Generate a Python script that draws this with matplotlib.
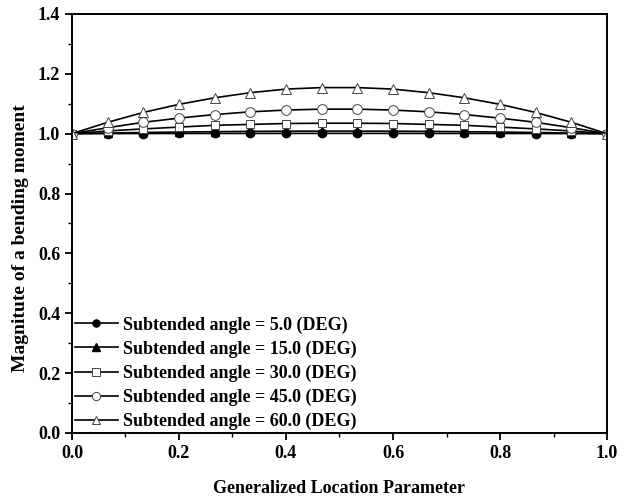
import matplotlib
matplotlib.use('Agg')
import matplotlib.pyplot as plt
from matplotlib.ticker import MultipleLocator

plt.rcParams['font.family'] = ['Liberation Serif', 'DejaVu Serif']
plt.rcParams['font.weight'] = 'bold'

# generalized location, 16 stations
x = [i / 15 for i in range(16)]

m_5 = [1.000, 1.0003, 1.0005, 1.0007, 1.0008, 1.0009, 1.0009, 1.0010,
       1.0010, 1.0009, 1.0009, 1.0008, 1.0007, 1.0005, 1.0003, 1.000]
m_15 = [1.000, 1.002, 1.004, 1.0055, 1.0067, 1.0077, 1.0083, 1.0086,
        1.0086, 1.0083, 1.0077, 1.0067, 1.0055, 1.004, 1.002, 1.000]
m_30 = [1.000, 1.009, 1.016, 1.022, 1.028, 1.031, 1.034, 1.035,
        1.035, 1.034, 1.031, 1.028, 1.022, 1.016, 1.009, 1.000]
m_45 = [1.000, 1.020, 1.038, 1.052, 1.064, 1.073, 1.079, 1.082,
        1.082, 1.079, 1.073, 1.064, 1.052, 1.038, 1.020, 1.000]
m_60 = [1.000, 1.038, 1.071, 1.098, 1.120, 1.137, 1.149, 1.154,
        1.154, 1.149, 1.137, 1.120, 1.098, 1.071, 1.038, 1.000]

labels = ['Subtended angle = 5.0 (DEG)', 'Subtended angle = 15.0 (DEG)',
          'Subtended angle = 30.0 (DEG)', 'Subtended angle = 45.0 (DEG)',
          'Subtended angle = 60.0 (DEG)']

fig = plt.figure(figsize=(6.28, 4.99), dpi=100)
ax = fig.add_axes([0.1146, 0.1323, 0.852, 0.8397])

ax.plot(x, m_5, 'k-', marker='o', ms=6, mfc='k', lw=1.2, label=labels[0])
ax.plot(x, m_15, 'k-', marker='^', ms=6, mfc='k', lw=1.2, label=labels[1])
ax.plot(x, m_30, 'k-', marker='s', ms=6, mfc='white', mec='#444444', mew=0.7, lw=1.2, label=labels[2])
ax.plot(x, m_45, 'k-', marker='o', ms=7, mfc='white', mec='#444444', mew=0.7, lw=1.2, label=labels[3])
ax.plot(x, m_60, 'k-', marker='^', ms=7, mfc='white', mec='#444444', mew=0.7, lw=1.2, label=labels[4])

ax.set_xlim(0, 1.0)
ax.set_ylim(0, 1.4)
ax.xaxis.set_major_locator(MultipleLocator(0.2))
ax.xaxis.set_minor_locator(MultipleLocator(0.1))
ax.yaxis.set_major_locator(MultipleLocator(0.2))
ax.yaxis.set_minor_locator(MultipleLocator(0.1))
ax.xaxis.set_major_formatter(matplotlib.ticker.FormatStrFormatter('%.1f'))
ax.yaxis.set_major_formatter(matplotlib.ticker.FormatStrFormatter('%.1f'))
ax.tick_params(which='major', direction='out', length=5, width=1.3, labelsize=13)
ax.tick_params(which='minor', direction='out', length=3, width=1.0)
for s in ax.spines.values():
    s.set_linewidth(1.4)

ax.set_xlabel('Generalized Location Parameter', fontsize=13, fontweight='bold', labelpad=13)
ax.set_ylabel('Magnitute of a bending moment', fontsize=14, fontweight='bold')
ax.yaxis.set_label_coords(-0.08, 0.465)

leg = ax.legend(loc='lower left', frameon=False, fontsize=13, handlelength=2.4,
                handletextpad=0.27, labelspacing=0.38, borderaxespad=0.05,
                borderpad=0.1, markerscale=0.85)

fig.savefig('out.png', dpi=100)
